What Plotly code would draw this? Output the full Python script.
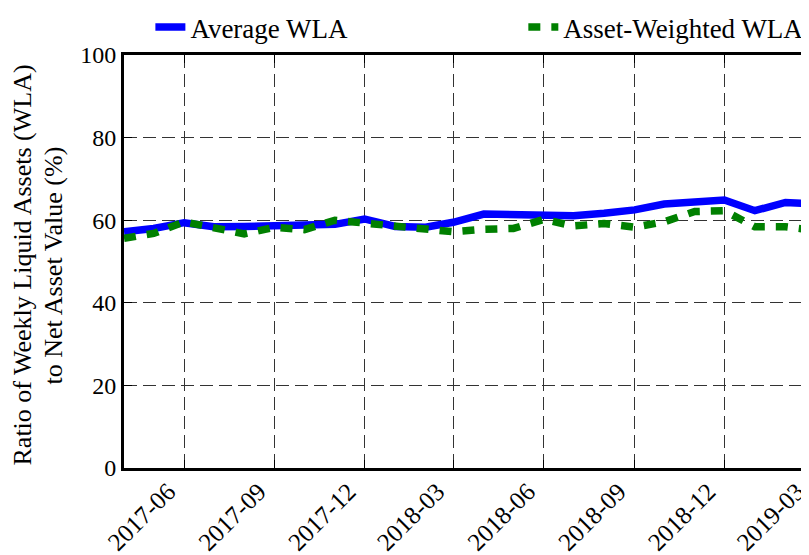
import pandas as pd
import plotly.graph_objects as go

months = pd.date_range("2017-04-01", "2019-03-01", freq="MS")

average_wla = [57.2, 58.0, 59.4, 58.4, 58.5, 58.7, 58.9, 59.0, 60.3, 58.5, 58.3, 59.5,
               61.5, 61.3, 61.0, 61.1, 61.7, 62.5, 63.9, 64.6, 64.9, 62.3, 64.3, 64.0]
weighted_wla = [55.6, 56.8, 59.6, 58.0, 56.7, 58.3, 57.7, 60.0, 59.2, 58.6, 57.9, 57.2,
                57.8, 58.0, 60.2, 58.6, 59.2, 58.3, 59.6, 62.1, 62.3, 58.4, 58.4, 57.6]

tick_dates = ["2017-06-01", "2017-09-01", "2017-12-01", "2018-03-01",
              "2018-06-01", "2018-09-01", "2018-12-01", "2019-03-01"]
tick_text = ["2017-06", "2017-09", "2017-12", "2018-03",
             "2018-06", "2018-09", "2018-12", "2019-03"]

title_lines = ["Ratio of Weekly Liquid Assets (WLA)", "to Net Asset Value (%)"]

font_name = "Liberation Serif, 'Times New Roman', 'DejaVu Serif', serif"

fig = go.Figure()
fig.add_trace(go.Scatter(x=months, y=average_wla, mode="lines", name="Average WLA",
                         line=dict(color="blue", width=7.5), legend="legend"))
fig.add_trace(go.Scatter(x=months, y=weighted_wla, mode="lines", name="Asset-Weighted WLA",
                         line=dict(color="green", width=7.5, dash="12px,11px"),
                         legend="legend2"))

legend_style = dict(orientation="h", yanchor="middle", xanchor="left",
                    xref="container", yref="container", y=0.965,
                    font=dict(family=font_name, size=27), bgcolor="rgba(0,0,0,0)")

# the page body adds 8px, so margins are 8px smaller than the target positions
fig.update_layout(
    width=809, height=555,
    margin=dict(l=116, r=0, t=47, b=95, autoexpand=False),
    plot_bgcolor="white", paper_bgcolor="white",
    font=dict(family=font_name, size=22, color="black"),
    legend=dict(legend_style, x=0.176),
    legend2=dict(legend_style, x=0.637),
    showlegend=True,
)

axis_style = dict(
    showline=True, linecolor="black", linewidth=3, mirror="ticks",
    showgrid=True, gridcolor="#333", gridwidth=1, griddash="13px,6px",
    ticks="inside", ticklen=8, tickwidth=1, tickcolor="black", zeroline=False,
)
fig.update_xaxes(
    range=["2017-04-01", "2019-03-05"],
    tickvals=tick_dates, ticktext=tick_text, tickangle=-45,
    tickfont=dict(size=25), ticklabelshift=-16, ticklabelstandoff=-4,
    ticklabeloverflow="allow", **axis_style,
)
fig.update_yaxes(
    range=[0, 100], tickvals=[0, 20, 40, 60, 80, 100],
    tickfont=dict(size=24), **axis_style,
)

# two-line y title, with tighter line spacing than a <br> title gives
for text, shift in zip(title_lines, [-102, -71]):
    fig.add_annotation(text=text, textangle=-90, xref="paper", yref="paper",
                       x=0, y=0.5, xanchor="center", yanchor="middle",
                       xshift=shift, yshift=-4, showarrow=False,
                       font=dict(size=26))

fig.write_html("out.html")
